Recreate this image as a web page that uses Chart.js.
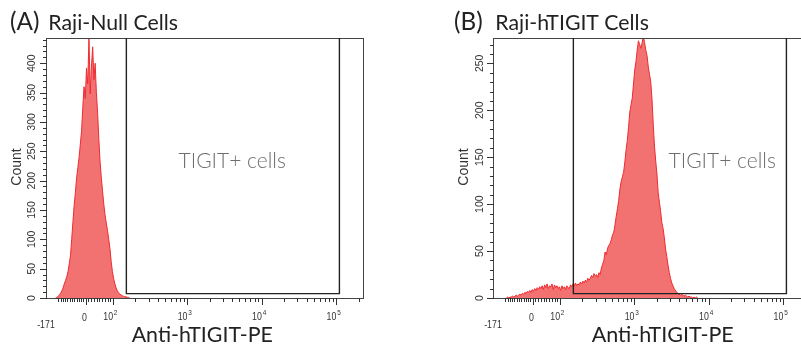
<!DOCTYPE html>
<html><head><meta charset="utf-8">
<script src="https://cdn.jsdelivr.net/npm/chart.js@4.4.0/dist/chart.umd.min.js"></script>
<style>
html,body{margin:0;padding:0;background:#fff;overflow:hidden;width:801px;height:346px;}
.wrap{position:absolute;top:0;width:447px;height:346px;}
#wA{left:0;} #wB{left:447px;}
</style></head><body>
<div class="wrap" id="wA"><canvas id="cA" width="447" height="346"></canvas></div>
<div class="wrap" id="wB"><canvas id="cB" width="447" height="346"></canvas></div>
<script>
// ---- data (histogram counts per display channel, 256 channels across the axis) ----
const leftTag = '(A)', leftTitle = 'Raji-Null Cells';
const rightTag = '(B)', rightTitle = 'Raji-hTIGIT Cells';
const xAxisTitle = 'Anti-hTIGIT-PE';
const yAxisTitle = 'Count';
const gateLabel = 'TIGIT+ cells';

const leftStartChannel = 7;
const leftCounts = [0,1,3,5,8,12,17,24,30,36,45,58,72,100,130,158,180,205,222,240,262,285,325,360,340,392,365,443,348,395,428,372,400,350,315,270,232,205,182,160,142,128,115,100,84,62,45,33,24,17,12,9,7,5,4,3,2,2,1,1,0];

const rightStartChannel = 10;
const rightCounts = [0,1,0,1,1,2,1,2,3,2,3,4,3,5,4,6,5,7,6,8,6,9,7,10,8,11,9,12,10,13,9,14,11,15,10,13,12,15,9,14,11,13,10,12,8,13,10,12,9,13,11,10,14,12,15,13,16,13,15,14,17,15,18,16,19,17,21,19,21,24,22,26,23,25,22,27,25,32,36,40,49,46,53,56,58,62,67,70,78,87,95,104,116,124,129,134,145,158,168,182,198,206,213,228,243,252,264,274,270,266,272,279,272,264,258,246,238,230,212,185,162,146,132,112,102,92,80,74,64,52,44,35,27,21,16,13,10,8,6,5,4,3,4,3,2,3,2,1,2,1,1,0,1,0,1,0];

const leftYMax = 443;
const rightYMax = 277;
const leftYLabels = [0,50,100,150,200,250,300,350,400];
const rightYLabels = [0,50,100,150,200,250];

const xMajorValues = [-171, 0, 100, 1000, 10000, 100000];
const xMajorBase   = ['-171', '0', '10', '10', '10', '10'];
const xMajorExp    = ['', '', '2', '3', '4', '5'];

const gateLow = 151, gateHigh = 110000;
const leftGateBottom = 7.5, rightGateBottom = 4.7;

// ---- display transform (biexponential-like axis, channel units 0..256) ----
function chan(v){
  if (v >= 100) return 53.5 + 60.3*(Math.log10(v)-2);
  if (v >= 0) return 31.2 + v*0.223;
  return 31.2 + v*0.1825;
}
function minorXValues(){
  const out = [];
  for (let v=-120; v<100; v+=10) if (v!==0) out.push(v);
  for (let e=2; e<=5; e++) for (let m=2; m<=9; m++){ const v=m*Math.pow(10,e); if (v<=262144) out.push(v); }
  return out;
}
function makePoints(start, counts){ return counts.map((c,i)=>({x:start+i, y:c})); }

// size a Lato string so that its ink spans the given width
function fitSize(ctx, text, width, weight){
  ctx.font = (weight||'400') + ' 20px Lato, sans-serif';
  const m = ctx.measureText(text);
  return 20 * width / (m.actualBoundingBoxLeft + m.actualBoundingBoxRight);
}
function drawInk(ctx, text, size, x0, baseline, weight){
  ctx.font = (weight||'400') + ' ' + size + 'px Lato, sans-serif';
  ctx.textAlign = 'left'; ctx.textBaseline = 'alphabetic';
  const m = ctx.measureText(text);
  ctx.fillText(text, x0 + m.actualBoundingBoxLeft, baseline);
}

let titleSizeShared = null;

function makeChart(id, cfg){
  const decor = {
    id:'decor',
    afterDraw(chart){
      const ctx = chart.ctx, a = chart.chartArea, xs = chart.scales.x, ys = chart.scales.y;
      ctx.save();
      // frame
      ctx.strokeStyle = '#444'; ctx.lineWidth = 1;
      ctx.strokeRect(a.left-0.5, a.top+0.5, a.right-a.left+1, a.bottom-a.top);
      // gate
      const gx1 = xs.getPixelForValue(chan(gateLow)), gx2 = xs.getPixelForValue(chan(gateHigh));
      const gy = ys.getPixelForValue(cfg.gateBottom);
      ctx.strokeStyle = '#222'; ctx.lineWidth = 1.4;
      ctx.beginPath();
      ctx.moveTo(gx1, a.top); ctx.lineTo(gx1, gy); ctx.lineTo(gx2, gy); ctx.lineTo(gx2, a.top);
      ctx.stroke();
      // x ticks
      ctx.strokeStyle = '#333'; ctx.lineWidth = 1;
      const yb = a.bottom;
      ctx.beginPath();
      xMajorValues.forEach(v=>{ if (v<=-171) return; const px=Math.round(xs.getPixelForValue(chan(v)))+0.5; ctx.moveTo(px,yb); ctx.lineTo(px,yb+7); });
      minorXValues().forEach(v=>{ const px=Math.round(xs.getPixelForValue(chan(v)))+0.5; ctx.moveTo(px,yb); ctx.lineTo(px,yb+4); });
      ctx.stroke();
      // x labels
      ctx.fillStyle = '#333';
      xMajorValues.forEach((v,i)=>{
        const px = xs.getPixelForValue(chan(v));
        if (xMajorExp[i]){
          ctx.save(); ctx.translate(px, 320); ctx.scale(0.8,1);
          ctx.font = '11px "Liberation Sans", Arial, sans-serif'; ctx.textAlign='right'; ctx.textBaseline='alphabetic';
          ctx.fillText(xMajorBase[i], 0, 0);
          ctx.font = '8px "Liberation Sans", Arial, sans-serif'; ctx.textAlign='left';
          ctx.fillText(xMajorExp[i], 1, -5);
          ctx.restore();
        } else {
          const yy = v < 0 ? 328 : 320.5;
          ctx.save(); ctx.translate(px-1, yy); ctx.scale(0.8,1);
          ctx.font = '11px "Liberation Sans", Arial, sans-serif'; ctx.textAlign='center'; ctx.textBaseline='alphabetic';
          ctx.fillText(xMajorBase[i], 0, 0);
          ctx.restore();
        }
      });
      // y ticks
      const xl = a.left;
      ctx.beginPath();
      for (let v=0; v<=cfg.yMax; v+=10){
        const py = Math.round(ys.getPixelForValue(v))+0.5;
        const len = (v%50===0) ? 7 : 4;
        ctx.moveTo(xl, py); ctx.lineTo(xl-len, py);
      }
      ctx.stroke();
      // y labels
      ctx.font = '10.5px "Liberation Sans", Arial, sans-serif';
      cfg.yLabels.forEach(v=>{
        const py = ys.getPixelForValue(v);
        ctx.save(); ctx.translate(cfg.yLabelX, py); ctx.rotate(-Math.PI/2);
        ctx.textAlign='center'; ctx.textBaseline='middle';
        ctx.fillText(String(v), 0, 0);
        ctx.restore();
      });
      // y title
      ctx.save(); ctx.translate(17.5, 167); ctx.rotate(-Math.PI/2);
      ctx.font = '14px "Liberation Sans", Arial, sans-serif'; ctx.textAlign='center'; ctx.textBaseline='middle';
      ctx.fillStyle = '#333'; ctx.fillText(yAxisTitle, 0, 0); ctx.restore();
      // x title
      ctx.fillStyle = '#222';
      const xtSize = fitSize(ctx, xAxisTitle, cfg.xTitle[1]-cfg.xTitle[0]);
      drawInk(ctx, xAxisTitle, xtSize, cfg.xTitle[0], 342);
      // panel title: tag + name
      const tagSize = fitSize(ctx, leftTag, 29);
      drawInk(ctx, cfg.tag, tagSize, cfg.tagX, 30);
      if (titleSizeShared === null) titleSizeShared = fitSize(ctx, leftTitle, 128);
      drawInk(ctx, cfg.title, titleSizeShared, 49.3, 30);
      // gate label
      ctx.fillStyle = '#6e6e6e';
      drawInk(ctx, gateLabel, 21, cfg.gateTextX, 168, '300');
      ctx.restore();
    }
  };
  return new Chart(document.getElementById(id), {
    type:'line',
    data:{ datasets:[{ data: makePoints(cfg.start, cfg.counts), borderColor:'#EE2B2F', borderWidth:1,
      backgroundColor:'#F27272', fill:'origin', pointRadius:0, tension:0 }]},
    options:{
      responsive:false, animation:false, events:[],
      layout:{ padding:{left:47, top:38, right:84, bottom:48} },
      plugins:{ legend:{display:false}, tooltip:{enabled:false}, title:{display:false} },
      scales:{
        x:{ type:'linear', min:0, max:256, display:false },
        y:{ type:'linear', min:0, max:cfg.yMax, display:false }
      }
    },
    plugins:[decor]
  });
}

makeChart('cA', {tag:leftTag, tagX:11, title:leftTitle, start:leftStartChannel, counts:leftCounts, yMax:leftYMax, yLabels:leftYLabels,
  gateBottom:leftGateBottom, yLabelX:32, xTitle:[131.7,272.3], gateTextX:178.5});
makeChart('cB', {tag:rightTag, tagX:8, title:rightTitle, start:rightStartChannel, counts:rightCounts, yMax:rightYMax, yLabels:rightYLabels,
  gateBottom:rightGateBottom, yLabelX:33.5, xTitle:[144.7,286.3], gateTextX:221.5});
</script>
</body></html>
